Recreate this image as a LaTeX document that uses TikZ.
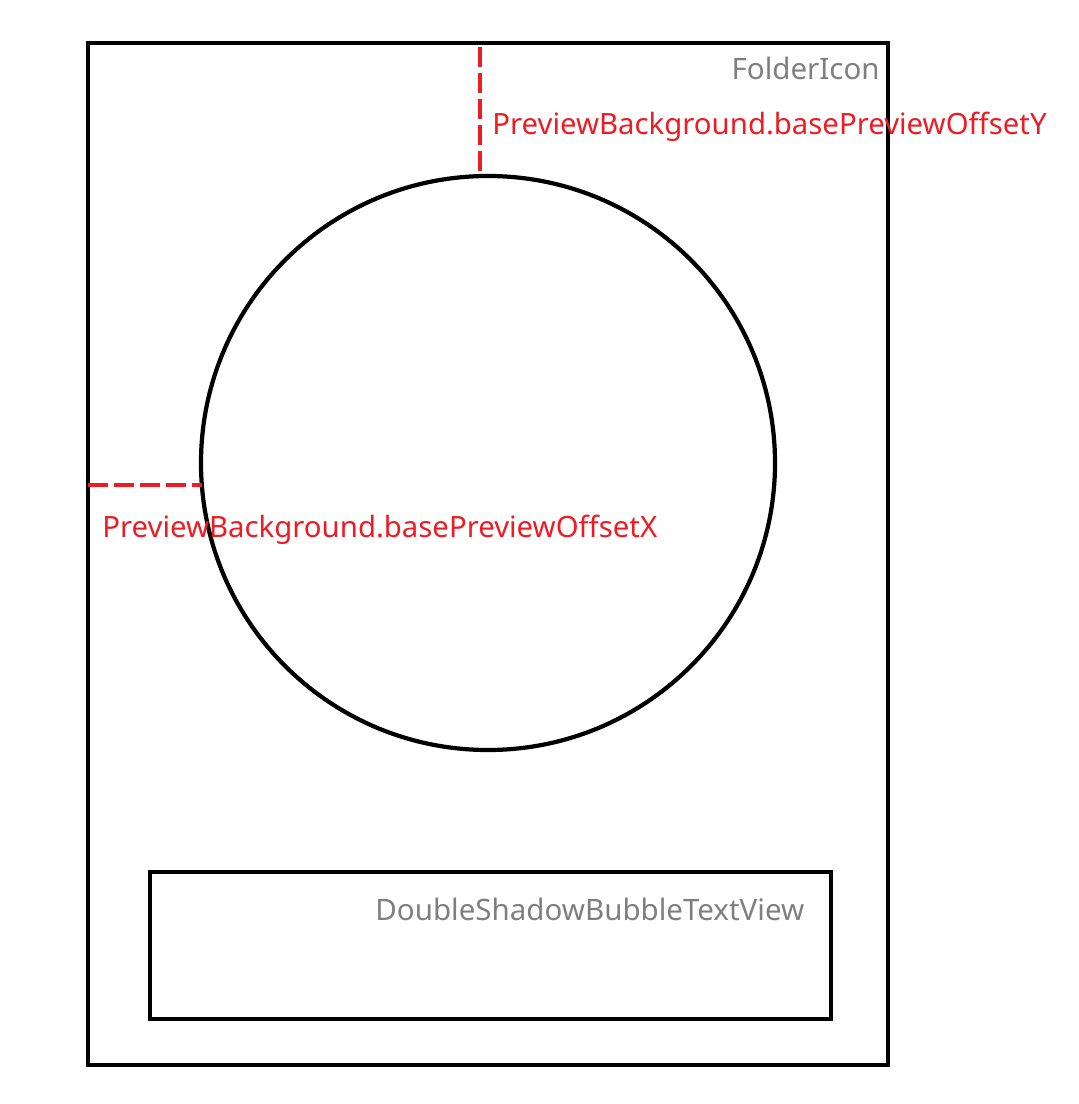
\documentclass[tikz,border=0pt]{standalone}
\usepackage{fontspec}
\setmainfont{Noto Sans}
\definecolor{offred}{HTML}{ED1C24}
\definecolor{labelgray}{HTML}{7F7F7F}

\begin{document}
\begin{tikzpicture}[
    x=0.02cm, y=-0.02cm,
    frame/.style={draw=black, line width=2.8pt},
    offset/.style={draw=offred, line width=2.6pt, dash pattern=on 0.4cm off 0.12cm},
    viewname/.style={text=labelgray, inner sep=0pt, font=\fontsize{16.8}{20}\selectfont},
    offsetname/.style={text=offred, inner sep=0pt, font=\fontsize{16.7}{20}\selectfont}
]
\useasboundingbox (0,0) rectangle (1078,1104);

% FolderIcon
\coordinate (folderNW) at (88,43);
\coordinate (folderSE) at (888,1065);
\draw[frame] (folderNW) rectangle (folderSE);
\node[viewname, anchor=base east] (folderlabel) at (880,80) {FolderIcon};

% PreviewBackground
\coordinate (previewC) at (488,463);
\draw[frame, line width=2.4pt] (previewC) circle[radius=287];

% Offsets
\coordinate (offYtop) at (480,47);
\coordinate (offYbot) at (480,176);
\coordinate (offXleft) at (88,485);
\coordinate (offXright) at (202,485);
\draw[offset] (offYtop) -- (offYbot);
\draw[offset] (offXleft) -- (offXright);
\node[offsetname, anchor=base west] (offYlabel) at (492,135) {PreviewBackground.basePreviewOffsetY};
\node[offsetname, anchor=base west] (offXlabel) at (102,537) {PreviewBackground.basePreviewOffsetX};

% DoubleShadowBubbleTextView
\coordinate (textNW) at (150,872);
\coordinate (textSE) at (831,1019);
\draw[frame] (textNW) rectangle (textSE);
\node[viewname, anchor=base west] (textlabel) at (375,920) {DoubleShadowBubbleTextView};

\end{tikzpicture}
\end{document}
